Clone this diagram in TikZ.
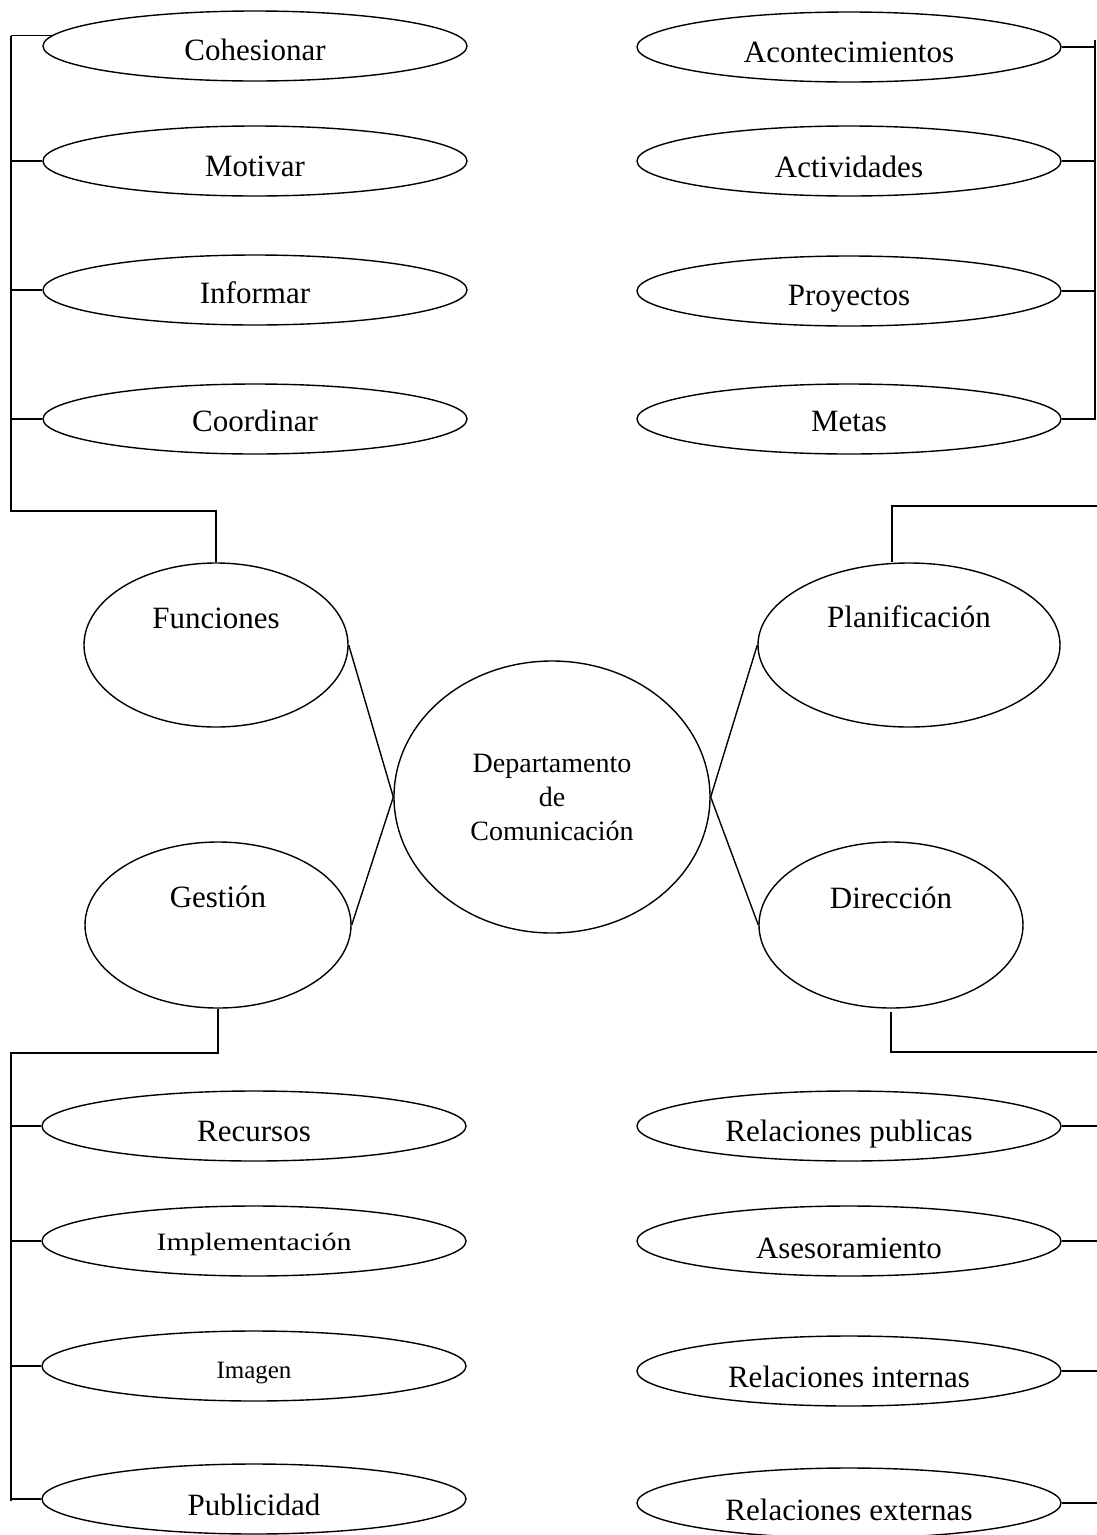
\documentclass[tikz,border=0pt]{standalone}
\usepackage{fontspec}
\setmainfont{Liberation Serif}
\usetikzlibrary{shapes.geometric}
\tikzset{
  ell/.style={draw, ellipse, line width=1.4pt, inner sep=0pt, minimum width=424pt, minimum height=70pt},
  bigell/.style={draw, ellipse, line width=1.4pt, inner sep=0pt},
  lbl/.style={font=\fontsize{31}{36}\selectfont, text height=22pt, text depth=6pt, inner sep=0pt},
  slbl/.style={font=\fontsize{25}{30}\selectfont, text height=18pt, text depth=5pt, inner sep=0pt},
  conn/.style={line width=1.4pt}
}
\begin{document}
\begin{tikzpicture}[x=1pt,y=-1pt]
\useasboundingbox (0,0) rectangle (1097,1535);
% central
\node[bigell, minimum width=316pt, minimum height=272pt, align=center,
      font=\fontsize{28}{34}\selectfont] (dep) at (552,797) {Departamento\\de\\Comunicación};
% second level
\node[bigell, minimum width=264pt, minimum height=164pt,
      label={[lbl, yshift=25pt]center:Funciones}] (fun) at (216,645) {};
\node[bigell, minimum width=302pt, minimum height=164pt,
      label={[lbl, yshift=26pt]center:Planificación}] (pla) at (909,645) {};
\node[bigell, minimum width=266pt, minimum height=166pt,
      label={[lbl, yshift=26pt]center:Gestión}] (ges) at (218,925) {};
\node[bigell, minimum width=264pt, minimum height=166pt,
      label={[lbl, yshift=25pt]center:Dirección}] (dir) at (891,925) {};
% top left
\node[ell, label={[lbl, yshift=-6pt]center:Cohesionar}] (c1) at (255,46) {};
\node[ell, label={[lbl, yshift=-7pt]center:Motivar}] (c2) at (255,161) {};
\node[ell, label={[lbl, yshift=-5pt]center:Informar}] (c3) at (255,290) {};
\node[ell, label={[lbl, yshift=-4pt]center:Coordinar}] (c4) at (255,419) {};
% top right
\node[ell, label={[lbl, yshift=-7pt]center:Acontecimientos}] (r1) at (849,47) {};
\node[ell, label={[lbl, yshift=-8pt]center:Actividades}] (r2) at (849,161) {};
\node[ell, label={[lbl, yshift=-6pt]center:Proyectos}] (r3) at (849,291) {};
\node[ell, label={[lbl, yshift=-4pt]center:Metas}] (r4) at (849,419) {};
% bottom left
\node[ell, label={[lbl, yshift=-7pt]center:Recursos}] (g1) at (254,1126) {};
\node[ell, label={[slbl, yshift=-3pt, xscale=1.2]center:Implementación}] (g2) at (254,1241) {};
\node[ell, label={[slbl, yshift=-6pt]center:Imagen}] (g3) at (254,1366) {};
\node[ell, label={[lbl, yshift=-8pt]center:Publicidad}] (g4) at (254,1499) {};
% bottom right
\node[ell, label={[lbl, yshift=-7pt]center:Relaciones publicas}] (d1) at (849,1126) {};
\node[ell, label={[lbl, yshift=-9pt]center:Asesoramiento}] (d2) at (849,1241) {};
\node[ell, label={[lbl, yshift=-8pt]center:Relaciones internas}] (d3) at (849,1371) {};
\node[ell, label={[lbl, yshift=-9pt]center:Relaciones externas}] (d4) at (849,1503) {};
% bracket coordinates
\coordinate (lt) at (11,36);
\coordinate (lb) at (11,511);
\coordinate (rt) at (1095,40);
\coordinate (rb) at (1095,420);
\coordinate (pl) at (892,506);
\coordinate (pr) at (1097,506);
\coordinate (gl) at (11,1053);
\coordinate (gb) at (11,1501);
\coordinate (dl) at (891,1052);
\coordinate (dr) at (1097,1052);
% connectors to centre
\draw[conn] (fun.east) -- (dep.west) -- (ges.east);
\draw[conn] (pla.west) -- (dep.east) -- (dir.west);
% Funciones bracket
\draw[conn] (lt) -- (lb) -| (fun.north);
\draw[conn] (c1.177) -- (c1.177 -| lt);
\draw[conn] (c2.west) -- (c2.west -| lt);
\draw[conn] (c3.west) -- (c3.west -| lt);
\draw[conn] (c4.west) -- (c4.west -| lt);
% Planificacion bracket
\draw[conn] (rt) -- (rb);
\draw[conn] (r1.east) -- (r1.east -| rt);
\draw[conn] (r2.east) -- (r2.east -| rt);
\draw[conn] (r3.east) -- (r3.east -| rt);
\draw[conn] (r4.east) -- (r4.east -| rt);
\draw[conn] (pr) -- (pl) -- (pl |- pla.north);
% Gestion bracket
\draw[conn] (ges.south) |- (gl) -- (gb);
\draw[conn] (g1.west) -- (g1.west -| gl);
\draw[conn] (g2.west) -- (g2.west -| gl);
\draw[conn] (g3.west) -- (g3.west -| gl);
\draw[conn] (g4.west) -- (g4.west -| gl);
% Direccion bracket
\draw[conn] ([yshift=-3pt]dir.south) -- (dl) -- (dr);
\draw[conn] (d1.east) -- (d1.east -| dr);
\draw[conn] (d2.east) -- (d2.east -| dr);
\draw[conn] (d3.east) -- (d3.east -| dr);
\draw[conn] (d4.east) -- (d4.east -| dr);
\end{tikzpicture}
\end{document}
